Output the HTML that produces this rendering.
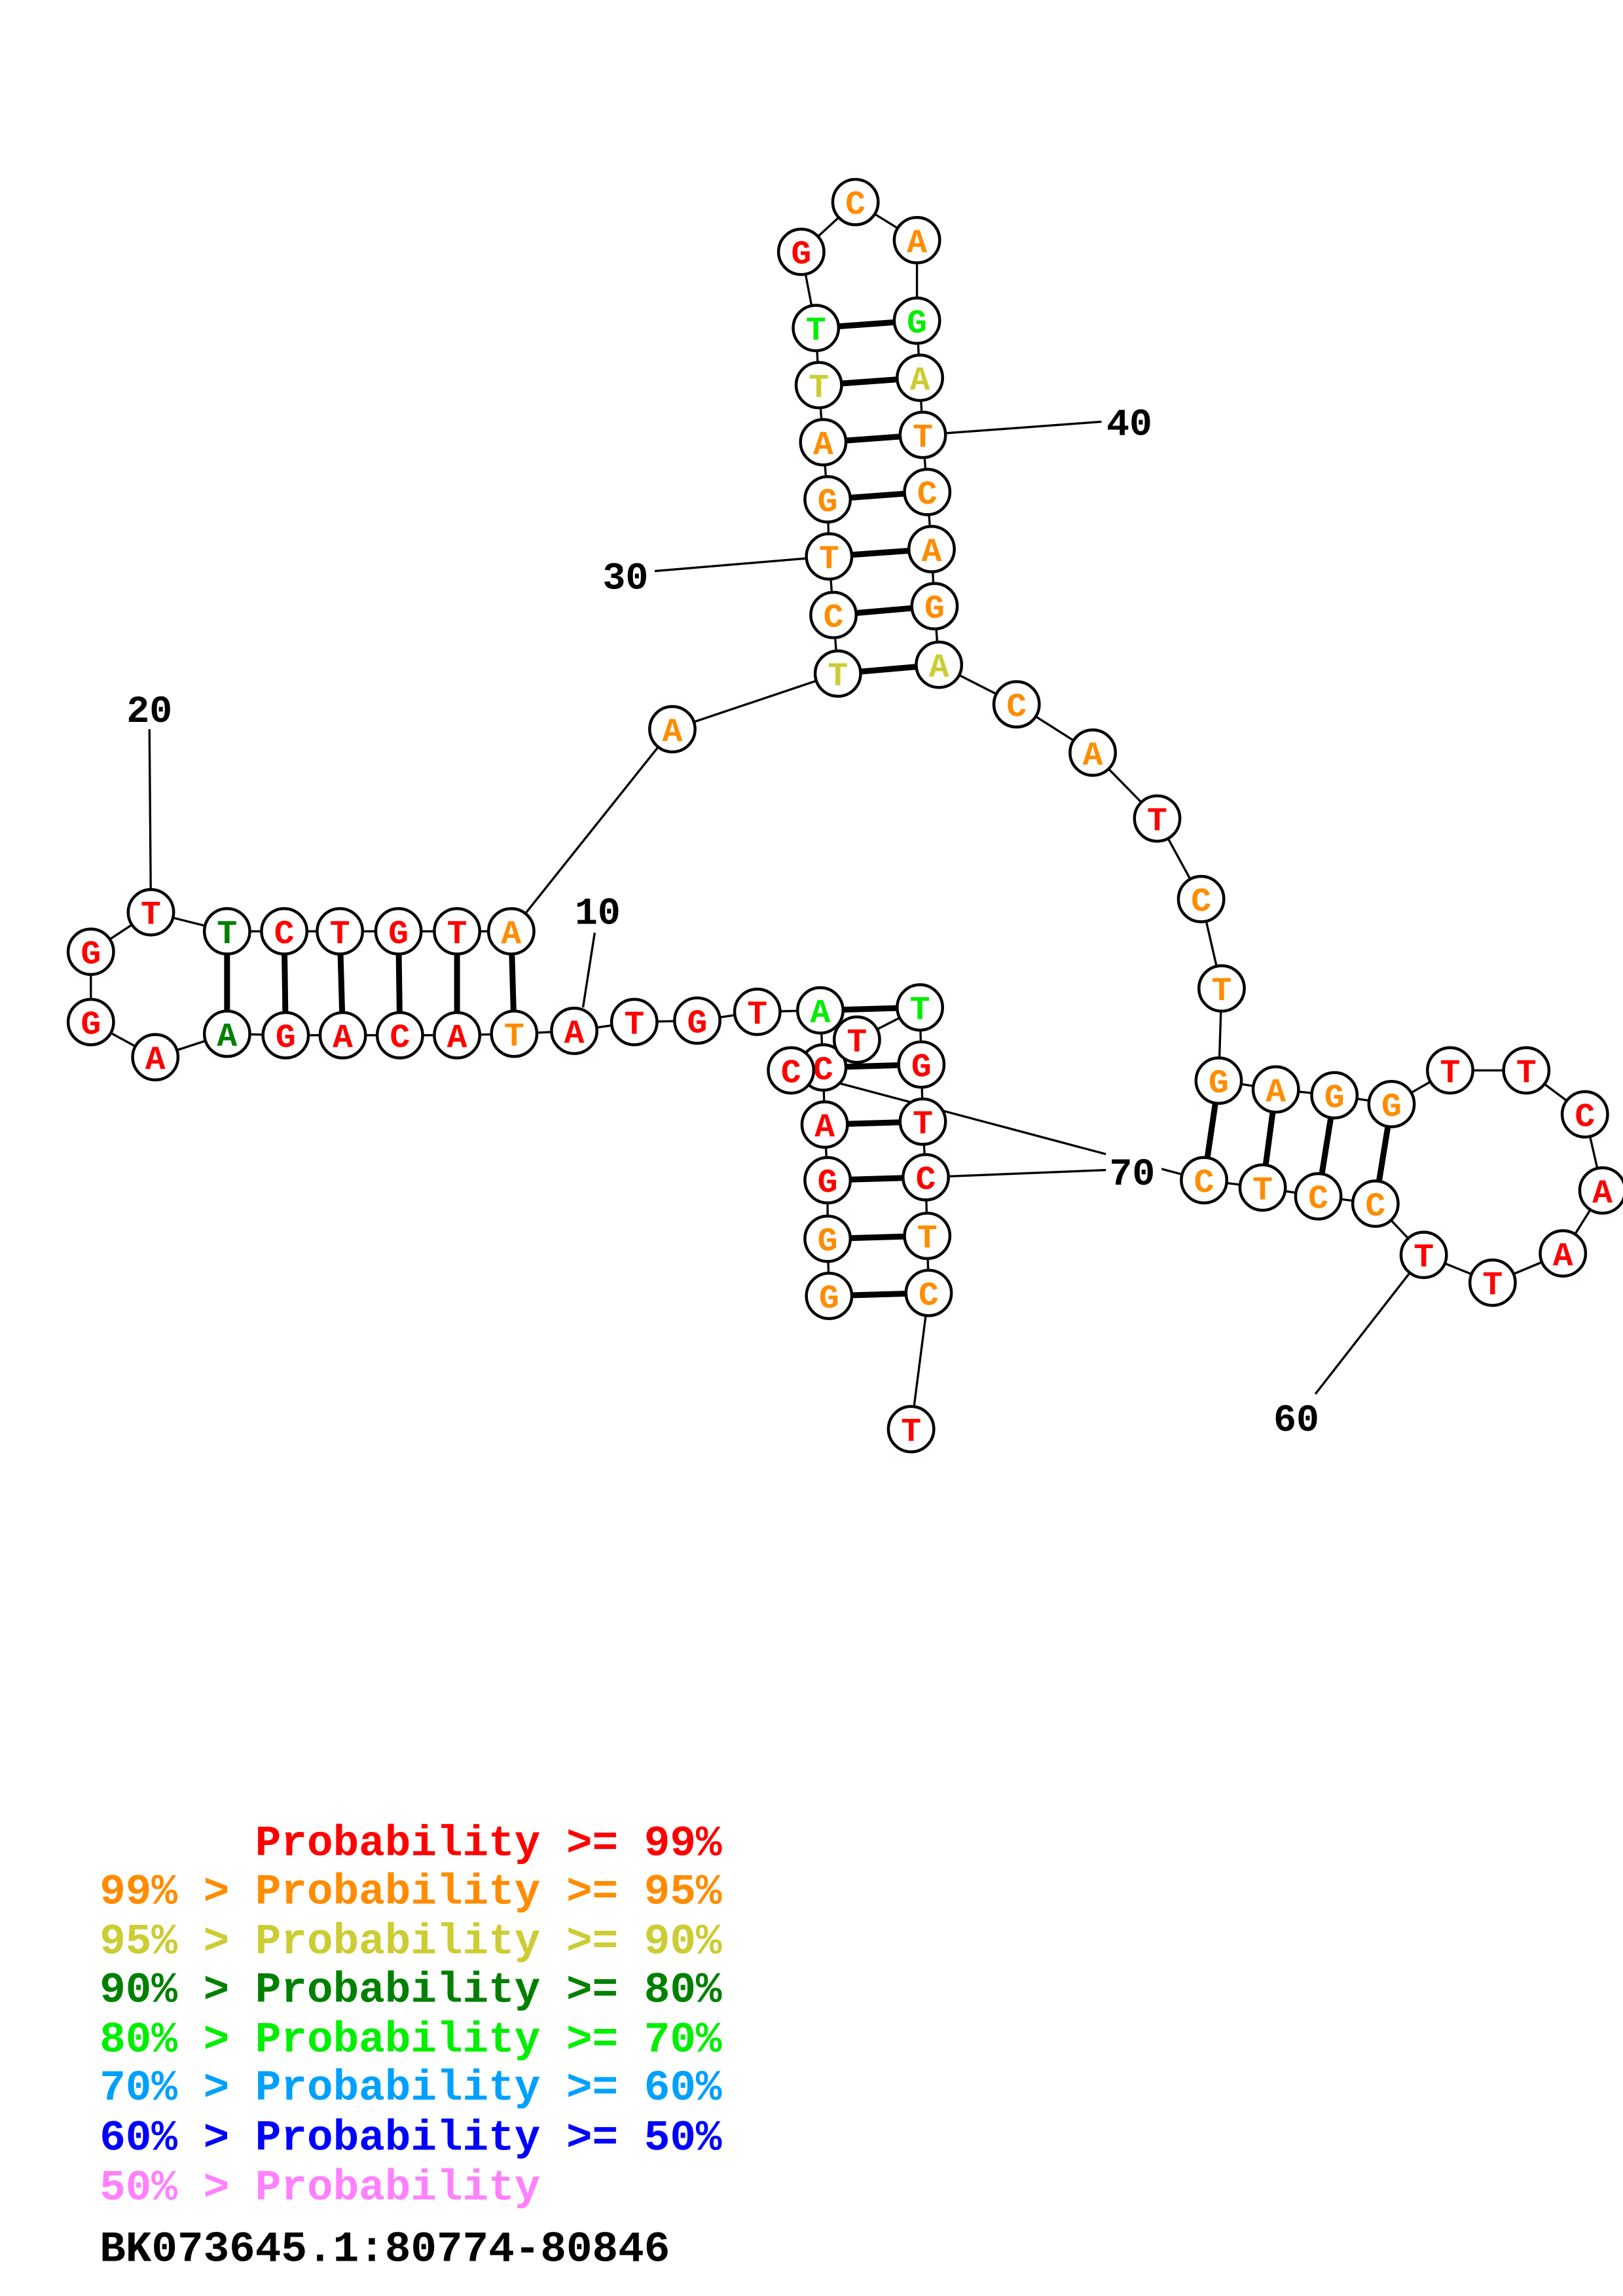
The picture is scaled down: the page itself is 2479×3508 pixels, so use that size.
<!DOCTYPE html>
<html><head><meta charset="utf-8"><style>html,body{margin:0;padding:0;background:#fff}svg{display:block}</style></head>
<body>
<svg id="s" width="2479" height="3508" viewBox="0 0 1108 1568" xmlns="http://www.w3.org/2000/svg">
<rect width="1108" height="1568" fill="#fff"/>
<g id="g"></g>
<rect x="755" y="786" width="38" height="24" fill="#fff"/>
<g font-family="'Liberation Mono', monospace" font-weight="bold" font-size="26">
<text x="102" y="493" text-anchor="middle">20</text>
<text x="408" y="631" text-anchor="middle">10</text>
<text x="427" y="402" text-anchor="middle">30</text>
<text x="771" y="297" text-anchor="middle">40</text>
<text x="773" y="809" text-anchor="middle">70</text>
<text x="885" y="977" text-anchor="middle">60</text>
</g>
<g font-family="'Liberation Mono', monospace" font-weight="bold" font-size="29.5">
<text x="68" y="1267" fill="#ff0000" xml:space="preserve">      Probability &gt;= 99%</text>
<text x="68" y="1300" fill="#ff8c00" xml:space="preserve">99% &gt; Probability &gt;= 95%</text>
<text x="68" y="1334" fill="#cccc33" xml:space="preserve">95% &gt; Probability &gt;= 90%</text>
<text x="68" y="1367" fill="#008000" xml:space="preserve">90% &gt; Probability &gt;= 80%</text>
<text x="68" y="1401" fill="#00ee00" xml:space="preserve">80% &gt; Probability &gt;= 70%</text>
<text x="68" y="1434" fill="#00a0ff" xml:space="preserve">70% &gt; Probability &gt;= 60%</text>
<text x="68" y="1468" fill="#0000ff" xml:space="preserve">60% &gt; Probability &gt;= 50%</text>
<text x="68" y="1502" fill="#ff80ff" xml:space="preserve">50% &gt; Probability</text>
<text x="68" y="1544" fill="#000">BK073645.1:80774-80846</text>
</g>
</svg>
<script>
var R='#ff0000',O='#ff8c00',Y='#cccc33',D='#008000',G='#00ee00';
var n=[
['G',566,885,O],['G',565,846,O],['G',565,806,R],['A',563,768,R],['C',562,729,R],['A',560,690,G],['T',517,691,R],['G',476,697,R],['T',433,698,R],['A',392,704,R],
['T',351,706,O],['A',312,707,R],['C',273,707,R],['A',234,707,R],['G',195,707,R],['A',155,706,D],['A',106,722,R],['G',62,698,R],['G',62,650,R],['T',103,623,R],
['T',155,636,D],['C',194,636,R],['T',232,636,R],['G',272,636,R],['T',312,636,R],['A',349,636,O],['A',459,498,O],['T',572,460,Y],['C',569,420,O],['T',566,380,O],
['G',565,341,O],['A',562,302,O],['T',559,263,Y],['T',557,224,G],['G',547,172,R],['C',584,138,O],['A',626,164,O],['G',626,219,G],['A',628,258,Y],['T',630,297,O],
['C',633,336,O],['A',636,375,O],['G',638,414,O],['A',641,454,Y],['C',694,481,O],['A',746,514,O],['T',790,559,R],['C',820,614,O],['T',834,675,O],['G',832,738,O],
['A',871,744,O],['G',911,748,O],['G',950,754,O],['T',990,731,R],['T',1042,731,R],['C',1082,761,R],['A',1094,813,R],['A',1067,856,R],['T',1019,876,R],['T',972,857,R],
['C',939,822,O],['C',900,817,O],['T',862,811,O],['C',822,806,O],['C',540,731,R],['T',585,710,R],['T',628,688,G],['G',629,727,R],['T',630,766,R],['C',632,804,R],
['T',633,844,O],['C',634,883,O],['T',622,976,R]];
var pairs=[[21,16],[22,15],[23,14],[24,13],[25,12],[26,11],[28,44],[29,43],[30,42],[31,41],[32,40],[33,39],[34,38],[50,64],[51,63],[52,62],[53,61],[1,72],[2,71],[3,70],[4,69],[5,68],[6,67]];
var h='';
function L(a,b,c,d,w){h+='<line x1="'+a+'" y1="'+b+'" x2="'+c+'" y2="'+d+'" stroke="#000" stroke-width="'+w+'"/>';}
for(var i=0;i<n.length-1;i++)L(n[i][1],n[i][2],n[i+1][1],n[i+1][2],1.5);
L(102,498,103,623,1.5);L(398,688,406,637,1.5);L(447,390,566,380,1.5);L(752,288,630,297,1.5);L(632,804,756,799,1.5);L(898,952,972,857,1.5);
for(var p of pairs){var a=n[p[0]-1],b=n[p[1]-1];L(a[1],a[2],b[1],b[2],4);}
for(var i=0;i<n.length;i++){var e=n[i];
h+='<circle cx="'+e[1]+'" cy="'+e[2]+'" r="15.5" fill="#fff" stroke="#000" stroke-width="2"/>';
h+='<text x="'+e[1]+'" y="'+(e[2]+8)+'" text-anchor="middle" font-family="\'Liberation Mono\', monospace" font-weight="bold" font-size="23" fill="'+e[3]+'">'+e[0]+'</text>';}
document.getElementById('g').innerHTML=h;
</script>
</body></html>
